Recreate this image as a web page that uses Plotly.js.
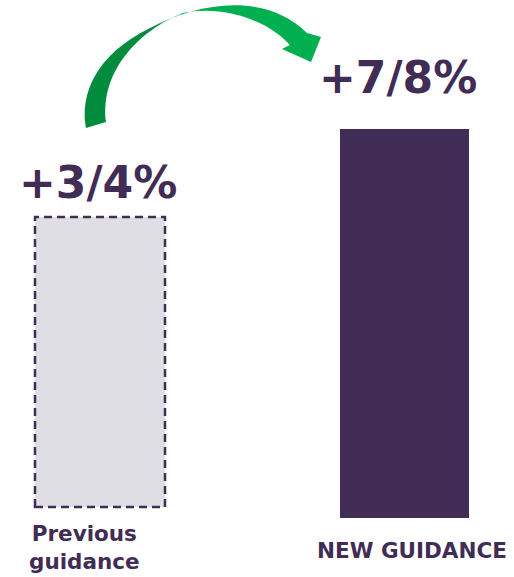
<!DOCTYPE html>
<html>
<head>
<meta charset="utf-8">
<script src="https://cdn.plot.ly/plotly-3.0.1.min.js"></script>
<style>html,body{margin:0;padding:0;background:#fff;}#chart{width:514px;height:577px;}</style>
</head>
<body>
<div id="chart"></div>
<script>
// ---- data ----
const categories = ["Previous<br>guidance", "NEW GUIDANCE"];
const guidanceValues = [3.5, 7.5];          // bar heights (mid-points of ranges)
const guidanceLabels = ["+3/4%", "+7/8%"];

// ---- style ----
const PURPLE = "#402c54";
const GREY = "#e0dee5";
const FONT = "DejaVu Sans, Verdana, sans-serif";
const W = 514, H = 577;

function P(x, y) { return (x / W).toFixed(4) + "," + (1 - y / H).toFixed(4); }

const traces = [
  {type: "bar", x: [categories[0]], y: [guidanceValues[0]], xaxis: "x", yaxis: "y",
   width: 1, marker: {color: GREY, line: {width: 0}}, hoverinfo: "skip"},
  {type: "bar", x: [categories[1]], y: [guidanceValues[1]], xaxis: "x2", yaxis: "y2",
   width: 1, marker: {color: PURPLE, line: {width: 0}}, hoverinfo: "skip"}
];

const hidden = {visible: false, fixedrange: true};

// left subplot padded so the dashed outline is not clipped
const pxPerUnit = 290 / guidanceValues[0];
const padY = 0.1;
const padX = 0.05;

// green curved arrow (decoration)
const darkArc = "M" + P(86,128) + " C" + P(80,95) + " " + P(95,55) + " " + P(150,28) +
  " L" + P(183,13) + " C" + P(140,30) + " " + P(100,70) + " " + P(106,122) + " Z";
const brightArc = "M" + P(150,28) + " C" + P(200,2) + " " + P(265,-8) + " " + P(307,33) +
  " L" + P(321,37) + " L" + P(311,62) + " L" + P(282,49) + " L" + P(290,45) +
  " C" + P(265,18) + " " + P(220,5) + " " + P(183,13) + " Z";

const layout = {
  width: W, height: H,
  margin: {l: 0, r: 0, t: 0, b: 0},
  paper_bgcolor: "#ffffff", plot_bgcolor: "rgba(0,0,0,0)",
  showlegend: false,
  xaxis: Object.assign({domain: [(35 - 130*padX)/W, (165 + 130*padX)/W],
    range: [-0.5 - padX, 0.5 + padX], type: "category", anchor: "y"}, hidden),
  yaxis: Object.assign({domain: [(H - 507 - padY*pxPerUnit)/H, (H - 217 + padY*pxPerUnit)/H],
    range: [-padY, guidanceValues[0] + padY], anchor: "x"}, hidden),
  xaxis2: Object.assign({domain: [340/W, 469/W], range: [-0.5, 0.5], type: "category", anchor: "y2"}, hidden),
  yaxis2: Object.assign({domain: [(H-518)/H, (H-129)/H], range: [0, guidanceValues[1]], anchor: "x2"}, hidden),
  shapes: [
    {type: "rect", xref: "x", yref: "y", x0: -0.5, x1: 0.5, y0: 0, y1: guidanceValues[0],
     line: {color: PURPLE, width: 2.5, dash: "8px,5px"}, fillcolor: "rgba(0,0,0,0)"},
    {type: "path", xref: "paper", yref: "paper", path: darkArc,
     fillcolor: "#008c3c", line: {width: 0}},
    {type: "path", xref: "paper", yref: "paper", path: brightArc,
     fillcolor: "#00b050", line: {width: 0}}
  ],
  annotations: [
    {xref: "x", yref: "y", x: categories[0], y: guidanceValues[0], yanchor: "bottom",
     text: guidanceLabels[0], showarrow: false, yshift: 7, xshift: -2,
     font: {family: FONT, size: 44, color: PURPLE, weight: "bold"}},
    {xref: "x2", yref: "y2", x: categories[1], y: guidanceValues[1], yanchor: "bottom",
     text: guidanceLabels[1], showarrow: false, yshift: 24, xshift: -7,
     font: {family: FONT, size: 44, color: PURPLE, weight: "bold"}},
    {xref: "x", yref: "y", x: categories[0], y: 0, yanchor: "top",
     text: categories[0], showarrow: false, yshift: -12, xshift: -16,
     font: {family: FONT, size: 21.5, color: PURPLE, weight: "bold"}},
    {xref: "x2", yref: "y2", x: categories[1], y: 0, yanchor: "top",
     text: categories[1], showarrow: false, yshift: -18, xshift: 7,
     font: {family: FONT, size: 21.5, color: PURPLE, weight: "bold"}}
  ]
};

Plotly.newPlot("chart", traces, layout, {displayModeBar: false, staticPlot: true});
</script>
</body>
</html>
